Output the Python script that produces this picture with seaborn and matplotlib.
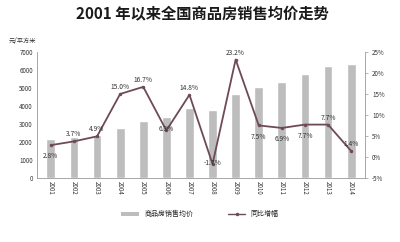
import matplotlib
matplotlib.use("Agg")
import matplotlib.pyplot as plt
import seaborn as sns
import pandas as pd
from matplotlib.patches import Patch
from matplotlib.lines import Line2D

years = [str(y) for y in range(2001, 2015)]
avg_price = [2170, 2250, 2359, 2778, 3168, 3367, 3864, 3800, 4681, 5032, 5357, 5791, 6237, 6324]
growth = [2.8, 3.7, 4.9, 15.0, 16.7, 6.3, 14.8, -1.7, 23.2, 7.5, 6.9, 7.7, 7.7, 1.4]
label_pos = ["below", "above", "above", "above", "above", "on", "above", "on",
             "above", "below", "below", "below", "above", "above"]
left_ticks = list(range(0, 7001, 1000))
right_ticks = [-5, 0, 5, 10, 15, 20, 25]

title = "2001 年以来全国商品房销售均价走势"
bar_name = "商品房销售均价"
line_name = "同比增幅"
unit = "元/平方米"

sns.set_theme(style="white")
plt.rcParams['font.family'] = ['Noto Sans CJK SC', 'DejaVu Sans']

df = pd.DataFrame({"year": years, "price": avg_price, "growth": growth})

fig = plt.figure(figsize=(4, 2.42), dpi=100)
ax1 = fig.add_axes([0.0925, 0.265, 0.82, 0.52])
bar_color = "#bdbdbd"
line_color = "#6e4a57"

sns.barplot(data=df, x="year", y="price", ax=ax1, color=bar_color, width=0.38,
            saturation=1)
ax1.set_ylim(0, 7000)
ax1.set_yticks(left_ticks)
ax1.set_yticklabels([str(t) for t in left_ticks], fontsize=4.5, color="#333333")
ax1.set_xlabel("")
ax1.set_ylabel("")
ax1.tick_params(axis="x", labelsize=4.5, labelcolor="#333333", rotation=270, pad=2, length=0)
ax1.tick_params(axis="y", length=0, pad=3)
for s in ["top", "right"]:
    ax1.spines[s].set_visible(False)
for s in ["left", "bottom"]:
    ax1.spines[s].set_color("#999999")
    ax1.spines[s].set_linewidth(0.6)
ax1.set_xlim(-0.6, 13.6)

ax2 = ax1.twinx()
sns.pointplot(data=df, x="year", y="growth", ax=ax2, color=line_color,
              markers="o", markersize=1.5, linewidth=1.3)
ax2.set_ylim(-5, 25)
ax2.set_yticks(right_ticks)
ax2.set_yticklabels([f"{t}%" for t in right_ticks], fontsize=4.5, color="#333333")
ax2.set_ylabel("")
ax2.tick_params(axis="y", length=2, pad=3, color="#999999", width=0.5)
for s in ["top", "left", "bottom"]:
    ax2.spines[s].set_visible(False)
ax2.spines["right"].set_color("#999999")
ax2.spines["right"].set_linewidth(0.6)
ax2.set_xlim(-0.6, 13.6)

offsets = {"above": 5, "below": -8, "on": 1}
for i, (g, p) in enumerate(zip(growth, label_pos)):
    ax2.annotate(f"{g:.1f}%", (i, g), xytext=(0, offsets[p]), textcoords="offset points",
                 ha="center", va="center", fontsize=4.8, color="#333333")

fig.text(0.505, 0.94, title, ha="center", va="center", fontsize=11, fontweight="bold",
         color="#1a1a1a")
fig.text(0.055, 0.83, unit, ha="center", va="center", fontsize=4.5, color="#333333")

handles = [Patch(facecolor=bar_color, edgecolor="none"),
           Line2D([0], [0], color=line_color, lw=1, marker="o", markersize=1.5)]
fig.legend(handles, [bar_name, line_name], loc="center", bbox_to_anchor=(0.5, 0.115),
           ncol=2, frameon=False, fontsize=5, handlelength=2.5, handleheight=0.5,
           columnspacing=5)

fig.savefig("out.png", dpi=100)
